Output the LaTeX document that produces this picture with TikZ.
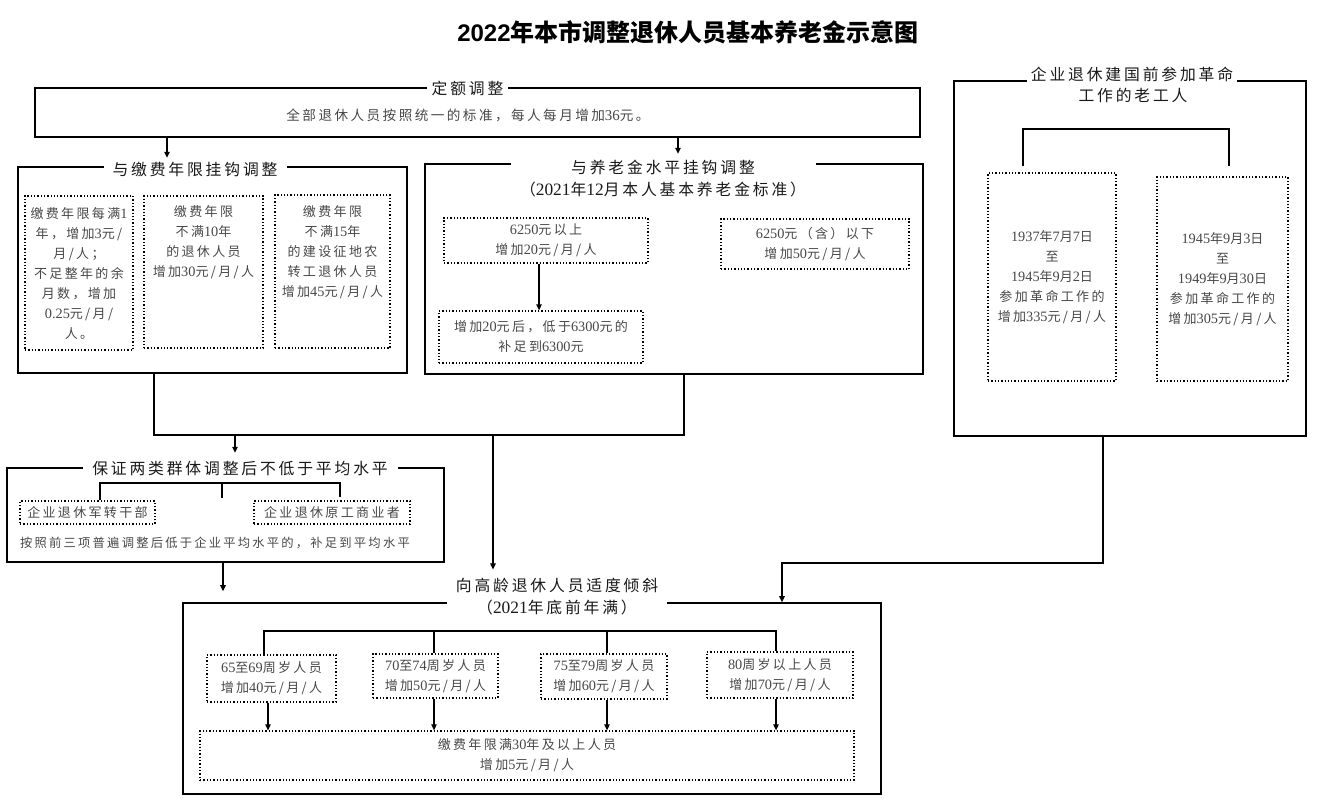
\documentclass[tikz,border=0pt]{standalone}
\usepackage{fontspec}
\setmainfont{Liberation Serif}[Scale=1.1]
\setsansfont{Liberation Sans}
\newfontfamily\cjk{Noto Sans CJK SC}[LetterSpace=18]
\newfontfamily\cjkt{Noto Sans CJK SC}
\usetikzlibrary{arrows.meta}
\newcommand\N[1]{{\rmfamily #1}}
\newcommand\bodyfont{\cjk\fontsize{13}{20}\selectfont}
\newcommand\labfont{\cjk\fontsize{15.8}{21}\selectfont}
\definecolor{txtgray}{gray}{0.28}
\definecolor{labgray}{gray}{0.1}
\tikzset{
  mainbox/.style={draw=black, line width=1.6pt, inner sep=0pt},
  dbox/.style={draw=black, dotted, line width=1.3pt, inner sep=0pt, text=txtgray, font=\bodyfont, align=center},
  lab/.style={fill=white, inner sep=0pt, minimum height=20, text=labgray, font=\labfont},
  lab2/.style={inner sep=0pt, text=labgray, font=\labfont},
  txt/.style={inner sep=0pt, text=txtgray, font=\bodyfont, align=center},
  conn/.style={draw=black, line width=1.2pt},
  arr/.style={conn, -{Triangle[length=6pt,width=5.5pt]}}
}
\begin{document}
\begin{tikzpicture}[x=1pt,y=-1pt]
\useasboundingbox (0,0) rectangle (1330,805);
% title
\node[inner sep=0pt] (title) at (688,32) {\fontsize{24}{30}\selectfont{\sffamily\bfseries 2022}{\cjkt\bfseries 年本市调整退休人员基本养老金示意图}};

% box 1
\node[mainbox, minimum width=885, minimum height=49] (fix) at (477.5,112.5) {};
\node[lab, minimum width=81] (fixlab) at (467.5,88) {定额调整};
\node[txt, font=\cjk\fontsize{13.6}{20}\selectfont] (fixtxt) at (468,115) {全部退休人员按照统一的标准，每人每月增加\N{36}元。};

% box 2
\node[mainbox, minimum width=389, minimum height=206] (b2) at (212.5,270) {};
\node[lab, minimum width=183] (b2lab) at (195,169) {与缴费年限挂钩调整};
\node[dbox, minimum width=108, minimum height=154] (a) at (79,273) {缴费年限每满\N{1}\\年，增加\N{3}元/\\月/人；\\不足整年的余\\月数，增加\\\N{0.25}元/月/\\人。};
\node[dbox, minimum width=119, minimum height=152] (b) at (203.5,272) {};
\node[txt] (btxt) at (203.5,242) {缴费年限\\不满\N{10}年\\的退休人员\\增加\N{30}元/月/人};
\node[dbox, minimum width=115, minimum height=153] (c) at (332.5,271.5) {};
\node[txt] (ctxt) at (332.5,252) {缴费年限\\不满\N{15}年\\的建设征地农\\转工退休人员\\增加\N{45}元/月/人};

% box 3
\node[mainbox, minimum width=498, minimum height=210] (b3) at (674,269) {};
\node[lab, minimum width=305] (b3lab) at (663,167) {与养老金水平挂钩调整};
\node[lab2] (b3lab2) at (663,189) {（\N{2021}年\N{12}月本人基本养老金标准）};
\node[dbox, minimum width=204, minimum height=45] (d1) at (546,240.5) {\N{6250}元以上\\增加\N{20}元/月/人};
\node[dbox, minimum width=204, minimum height=52] (d2) at (541,337) {增加\N{20}元后，低于\N{6300}元的\\补足到\N{6300}元};
\node[dbox, minimum width=188, minimum height=50] (d3) at (815,244) {\N{6250}元（含）以下\\增加\N{50}元/月/人};

% box 4
\node[mainbox, minimum width=352, minimum height=355] (b4) at (1130,258.5) {};
\node[lab, minimum width=210] (b4lab) at (1132,74) {企业退休建国前参加革命};
\node[lab2] (b4lab2) at (1133,95) {工作的老工人};
\node[dbox, minimum width=128, minimum height=208] (e1) at (1052,277) {\N{1937}年\N{7}月\N{7}日\\至\\\N{1945}年\N{9}月\N{2}日\\参加革命工作的\\增加\N{335}元/月/人};
\node[dbox, minimum width=131, minimum height=204] (e2) at (1222.5,279) {\N{1945}年\N{9}月\N{3}日\\至\\\N{1949}年\N{9}月\N{30}日\\参加革命工作的\\增加\N{305}元/月/人};

% box 5
\node[mainbox, minimum width=437, minimum height=94] (b5) at (225.5,515) {};
\node[lab, minimum width=315] (b5lab) at (240,469) {保证两类群体调整后不低于平均水平};
\node[dbox, minimum width=135, minimum height=23] (f1) at (87.5,512.5) {企业退休军转干部};
\node[dbox, minimum width=156, minimum height=23] (f2) at (332,512.5) {企业退休原工商业者};
\node[txt, font=\cjk\fontsize{12.3}{20}\selectfont] (b5txt) at (215,543) {按照前三项普遍调整后低于企业平均水平的，补足到平均水平};

% box 6
\node[mainbox, minimum width=698, minimum height=191] (b6) at (532,698.5) {};
\node[lab2] (b6lab1) at (557,585) {向高龄退休人员适度倾斜};
\node[lab, minimum width=220] (b6lab2) at (557,607) {（\N{2021}年底前年满）};
\node[dbox, minimum width=129, minimum height=47] (g1) at (271.5,678.5) {\N{65}至\N{69}周岁人员\\增加\N{40}元/月/人};
\node[dbox, minimum width=125, minimum height=44] (g2) at (435.5,676) {\N{70}至\N{74}周岁人员\\增加\N{50}元/月/人};
\node[dbox, minimum width=126, minimum height=45] (g3) at (604,676.5) {\N{75}至\N{79}周岁人员\\增加\N{60}元/月/人};
\node[dbox, minimum width=146, minimum height=46] (g4) at (780,675) {\N{80}周岁以上人员\\增加\N{70}元/月/人};
\node[dbox, minimum width=654, minimum height=49] (h) at (527,755.5) {\fontsize{13}{18}\selectfont 缴费年限满\N{30}年及以上人员\\增加\N{5}元/月/人};

% ---- connectors ----
\draw[arr] ([xshift=-310.5]fix.south) -- ([xshift=-310.5,yshift=1]fix.south |- b2lab.north);
\draw[arr] ([xshift=200.5]fix.south) -- ([xshift=200.5,yshift=3]fix.south |- b3lab.north);
\draw[arr] ([xshift=-7]d1.south) -- ([xshift=-7]d1.south |- d2.north);

% box 4 bracket
\coordinate (k1) at (1023,129);
\coordinate (k2) at (1229,129);
\draw[conn] ([yshift=6]k1 |- e1.north) -- (k1) -- (k2) -- ([yshift=10]k2 |- e2.north);

% merge of box 2 and box 3
\coordinate (m1) at (154,435);
\coordinate (m2) at (684,435);
\coordinate (m3) at (235,435);
\coordinate (m4) at (493,435);
\draw[conn] (m1 |- b2.south) -- (m1) -- (m2) -- (m2 |- b3.south);
\draw[arr] (m3) -- ([yshift=6]m3 |- b5lab.north);
\draw[arr] (m4) -- ([yshift=8]m4 |- b6lab1.north);

% box 5 bracket
\coordinate (p1) at (100,483);
\coordinate (p2) at (222,483);
\coordinate (p2e) at (222,498);
\coordinate (p3) at (340,483);
\draw[conn] (p1 |- f1.north) -- (p1) -- (p3) -- ([yshift=3]p3 |- f2.north);
\draw[conn] (p2) -- (p2e);

% box 5 -> box 6
\draw[arr] ([xshift=-2.5]b5.south) -- ([xshift=-2.5,yshift=11]b5.south |- b6.north);

% box 4 -> box 6
\coordinate (m5) at (1103,563);
\coordinate (m6) at (782,563);
\draw[arr] (m5 |- b4.south) -- (m5) -- (m6) -- (m6 |- b6.north);

% box 6 bracket
\coordinate (q1) at (264,631);
\coordinate (q2) at (434,631);
\coordinate (q3) at (607,631);
\coordinate (q4) at (776,631);
\draw[conn] (q1 |- g1.north) -- (q1) -- (q4) -- (q4 |- g4.north);
\draw[conn] (q2) -- (q2 |- g2.north);
\draw[conn] (q3) -- (q3 |- g3.north);
\draw[arr] ([xshift=-3.5]g1.south) -- ([xshift=-3.5]g1.south |- h.north);
\draw[arr] ([xshift=-1.5]g2.south) -- ([xshift=-1.5]g2.south |- h.north);
\draw[arr] ([xshift=3]g3.south) -- ([xshift=3]g3.south |- h.north);
\draw[arr] ([xshift=-4]g4.south) -- ([xshift=-4]g4.south |- h.north);
\end{tikzpicture}
\end{document}
